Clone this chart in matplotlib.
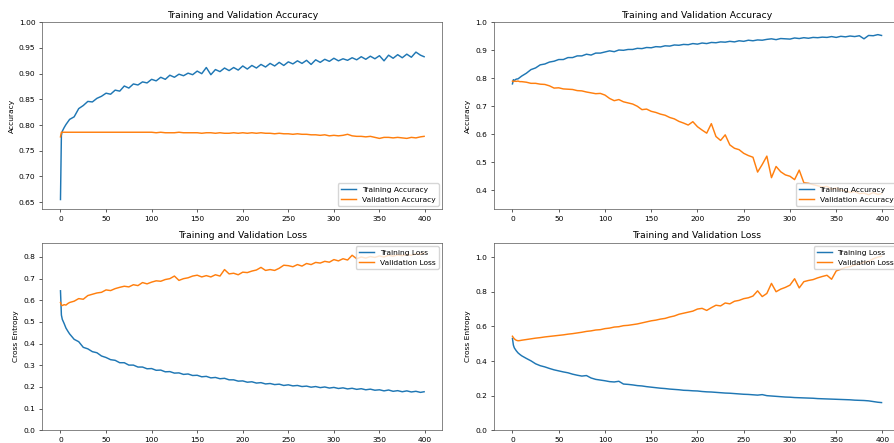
import matplotlib
matplotlib.use("Agg")
import matplotlib.pyplot as plt

epochs = [0, 1, 2, 4, 6, 8] + list(range(10, 400, 5)) + [399]

acc1_train = [0.655, 0.780, 0.788, 0.795, 0.801, 0.806,
              0.811, 0.816, 0.832, 0.838, 0.846, 0.845, 0.852, 0.856, 0.862, 0.860,
              0.868, 0.866, 0.876, 0.872, 0.880, 0.878, 0.884, 0.882, 0.889, 0.886,
              0.893, 0.889, 0.897, 0.893, 0.899, 0.896, 0.901, 0.898, 0.905, 0.900,
              0.912, 0.898, 0.908, 0.904, 0.911, 0.906, 0.912, 0.907, 0.915, 0.909,
              0.916, 0.911, 0.918, 0.913, 0.920, 0.915, 0.922, 0.916, 0.923, 0.919,
              0.925, 0.920, 0.926, 0.918, 0.927, 0.922, 0.928, 0.924, 0.930, 0.925,
              0.929, 0.926, 0.931, 0.927, 0.933, 0.928, 0.934, 0.929, 0.935, 0.925,
              0.936, 0.930, 0.937, 0.931, 0.938, 0.932, 0.942, 0.936, 0.933]
acc1_val = [0.777, 0.786, 0.786, 0.786, 0.786, 0.786,
            0.786, 0.786, 0.786, 0.786, 0.786, 0.786, 0.786, 0.786, 0.786, 0.786,
            0.786, 0.786, 0.786, 0.786, 0.786, 0.786, 0.786, 0.786, 0.786, 0.785,
            0.786, 0.785, 0.785, 0.785, 0.786, 0.785, 0.785, 0.785, 0.785, 0.784,
            0.785, 0.785, 0.784, 0.785, 0.784, 0.784, 0.785, 0.784, 0.785, 0.784,
            0.785, 0.784, 0.785, 0.784, 0.784, 0.783, 0.784, 0.783, 0.783, 0.782,
            0.783, 0.782, 0.782, 0.781, 0.781, 0.780, 0.781, 0.779, 0.780, 0.779,
            0.780, 0.782, 0.779, 0.778, 0.778, 0.777, 0.778, 0.776, 0.774, 0.776,
            0.776, 0.775, 0.776, 0.775, 0.774, 0.776, 0.775, 0.777, 0.778]

acc2_train = [0.780, 0.795, 0.792, 0.797, 0.798, 0.803,
              0.808, 0.818, 0.831, 0.837, 0.848, 0.851, 0.858, 0.861, 0.867, 0.867,
              0.874, 0.874, 0.880, 0.880, 0.886, 0.883, 0.890, 0.890, 0.894, 0.898,
              0.895, 0.901, 0.900, 0.903, 0.903, 0.907, 0.906, 0.910, 0.909, 0.913,
              0.912, 0.916, 0.915, 0.919, 0.918, 0.921, 0.920, 0.924, 0.922, 0.926,
              0.924, 0.928, 0.927, 0.930, 0.929, 0.932, 0.930, 0.934, 0.932, 0.936,
              0.934, 0.937, 0.936, 0.939, 0.941, 0.938, 0.942, 0.941, 0.940, 0.944,
              0.942, 0.945, 0.943, 0.946, 0.945, 0.947, 0.946, 0.949, 0.946, 0.950,
              0.948, 0.951, 0.949, 0.952, 0.941, 0.953, 0.952, 0.956, 0.953]
acc2_val = [0.790, 0.788, 0.790, 0.789, 0.790, 0.788,
            0.788, 0.786, 0.782, 0.782, 0.779, 0.778, 0.773, 0.765, 0.766, 0.762,
            0.761, 0.760, 0.756, 0.755, 0.751, 0.748, 0.745, 0.746, 0.740, 0.728,
            0.720, 0.724, 0.716, 0.712, 0.708, 0.700, 0.688, 0.690, 0.682, 0.678,
            0.672, 0.668, 0.660, 0.655, 0.646, 0.640, 0.633, 0.645, 0.627, 0.615,
            0.604, 0.638, 0.592, 0.578, 0.598, 0.562, 0.550, 0.545, 0.532, 0.524,
            0.518, 0.465, 0.492, 0.522, 0.445, 0.485, 0.466, 0.455, 0.450, 0.438,
            0.472, 0.427, 0.425, 0.420, 0.416, 0.412, 0.414, 0.404, 0.408, 0.400,
            0.398, 0.392, 0.396, 0.388, 0.390, 0.384, 0.392, 0.385, 0.388]

loss1_train = [0.644, 0.532, 0.512, 0.493, 0.472, 0.458,
               0.445, 0.420, 0.409, 0.383, 0.376, 0.363, 0.358, 0.343, 0.336, 0.326,
               0.323, 0.312, 0.312, 0.301, 0.301, 0.292, 0.292, 0.284, 0.285, 0.277,
               0.278, 0.270, 0.271, 0.264, 0.265, 0.258, 0.260, 0.253, 0.254, 0.247,
               0.249, 0.242, 0.244, 0.238, 0.240, 0.233, 0.233, 0.227, 0.228, 0.222,
               0.224, 0.218, 0.220, 0.214, 0.216, 0.211, 0.213, 0.207, 0.210, 0.205,
               0.207, 0.202, 0.204, 0.199, 0.202, 0.197, 0.200, 0.195, 0.198, 0.193,
               0.196, 0.191, 0.194, 0.189, 0.192, 0.187, 0.190, 0.185, 0.187, 0.182,
               0.186, 0.180, 0.183, 0.178, 0.182, 0.177, 0.180, 0.175, 0.178]
loss1_val = [0.590, 0.578, 0.576, 0.580, 0.578, 0.585,
             0.590, 0.596, 0.608, 0.605, 0.622, 0.628, 0.634, 0.637, 0.648, 0.645,
             0.654, 0.660, 0.665, 0.662, 0.672, 0.668, 0.682, 0.676, 0.684, 0.690,
             0.688, 0.696, 0.700, 0.712, 0.692, 0.700, 0.704, 0.712, 0.716, 0.708,
             0.714, 0.708, 0.718, 0.712, 0.742, 0.722, 0.725, 0.718, 0.730, 0.728,
             0.735, 0.740, 0.752, 0.738, 0.742, 0.738, 0.748, 0.762, 0.760, 0.755,
             0.765, 0.758, 0.770, 0.765, 0.775, 0.772, 0.780, 0.776, 0.788, 0.782,
             0.792, 0.786, 0.808, 0.792, 0.800, 0.795, 0.802, 0.798, 0.805, 0.800,
             0.808, 0.804, 0.810, 0.806, 0.812, 0.808, 0.815, 0.812, 0.818]

loss2_train = [0.530, 0.492, 0.476, 0.460, 0.447, 0.438,
               0.430, 0.415, 0.401, 0.384, 0.373, 0.366, 0.357, 0.349, 0.343, 0.337,
               0.332, 0.324, 0.318, 0.313, 0.316, 0.302, 0.294, 0.290, 0.286, 0.281,
               0.279, 0.283, 0.267, 0.265, 0.262, 0.258, 0.256, 0.252, 0.249, 0.246,
               0.243, 0.241, 0.238, 0.236, 0.234, 0.231, 0.230, 0.228, 0.227, 0.224,
               0.222, 0.221, 0.219, 0.217, 0.215, 0.214, 0.212, 0.210, 0.208, 0.207,
               0.205, 0.203, 0.206, 0.200, 0.198, 0.196, 0.194, 0.192, 0.191, 0.189,
               0.188, 0.187, 0.186, 0.185, 0.183, 0.182, 0.181, 0.180, 0.179, 0.178,
               0.177, 0.176, 0.174, 0.173, 0.172, 0.170, 0.166, 0.162, 0.160]
loss2_val = [0.543, 0.535, 0.528, 0.520, 0.517, 0.518,
             0.520, 0.524, 0.528, 0.532, 0.535, 0.539, 0.542, 0.545, 0.548, 0.551,
             0.555, 0.558, 0.562, 0.566, 0.571, 0.574, 0.579, 0.581, 0.587, 0.590,
             0.596, 0.598, 0.604, 0.606, 0.610, 0.614, 0.620, 0.626, 0.632, 0.636,
             0.642, 0.646, 0.654, 0.660, 0.670, 0.676, 0.682, 0.688, 0.700, 0.704,
             0.692, 0.708, 0.722, 0.718, 0.735, 0.730, 0.745, 0.750, 0.760, 0.765,
             0.775, 0.805, 0.772, 0.790, 0.848, 0.800, 0.815, 0.825, 0.838, 0.875,
             0.822, 0.858, 0.865, 0.870, 0.880, 0.888, 0.895, 0.872, 0.920, 0.930,
             0.940, 0.945, 0.955, 0.960, 0.970, 0.975, 0.990, 1.000, 1.005]

acc_ticks_left = [0.65, 0.70, 0.75, 0.80, 0.85, 0.90, 0.95, 1.00]
acc_ticks_right = [0.4, 0.5, 0.6, 0.7, 0.8, 0.9, 1.0]
loss_ticks_left = [0.0, 0.1, 0.2, 0.3, 0.4, 0.5, 0.6, 0.7, 0.8]
loss_ticks_right = [0.0, 0.2, 0.4, 0.6, 0.8, 1.0]
x_ticks = [0, 50, 100, 150, 200, 250, 300, 350, 400]

BASE = 5.4
TITLE = 6.7
W, H = 894, 443

fig = plt.figure(figsize=(W / 100, H / 100), dpi=100)

def px_axes(left, top, width, height):
    return fig.add_axes([left / W, (H - top - height) / H, width / W, height / H])

ax_tl = px_axes(42.3, 22.3, 400, 187)
ax_tr = px_axes(494, 22.3, 406, 187)
ax_bl = px_axes(42.3, 242.7, 400, 187.6)
ax_br = px_axes(494, 242.7, 406, 187.6)

def style(ax, title, ylabel, yticks, fmt, ylim, legend_loc, labels):
    ax.set_title(title, fontsize=TITLE, pad=3.2)
    ax.set_ylabel(ylabel, fontsize=BASE, labelpad=2.9)
    ax.set_xticks(x_ticks)
    ax.set_yticks(yticks)
    ax.set_yticklabels([fmt.format(v) for v in yticks])
    ax.set_xlim(-19.95, 418.95)
    ax.set_ylim(*ylim)
    ax.tick_params(labelsize=BASE, length=2.5, width=0.45, pad=2.5)
    for s in ax.spines.values():
        s.set_linewidth(0.5)
        s.set_color("#555555")
    ax.legend(labels, loc=legend_loc, fontsize=BASE, frameon=True,
              handlelength=2.0, borderaxespad=0.5)

c_blue = "#1f77b4"
c_orange = "#ff7f0e"
lw = 1.05

ax_tl.plot(epochs, acc1_train, color=c_blue, lw=lw)
ax_tl.plot(epochs, acc1_val, color=c_orange, lw=lw)
style(ax_tl, "Training and Validation Accuracy", "Accuracy", acc_ticks_left, "{:.2f}",
      (0.636, 1.0), "lower right", ["Training Accuracy", "Validation Accuracy"])

ax_tr.plot(epochs, acc2_train, color=c_blue, lw=lw)
ax_tr.plot(epochs, acc2_val, color=c_orange, lw=lw)
style(ax_tr, "Training and Validation Accuracy", "Accuracy", acc_ticks_right, "{:.1f}",
      (0.332, 1.0), "lower right", ["Training Accuracy", "Validation Accuracy"])

ax_bl.plot(epochs, loss1_train, color=c_blue, lw=lw)
ax_bl.plot(epochs, loss1_val, color=c_orange, lw=lw)
style(ax_bl, "Training and Validation Loss", "Cross Entropy", loss_ticks_left, "{:.1f}",
      (0.0, 0.866), "upper right", ["Training Loss", "Validation Loss"])

ax_br.plot(epochs, loss2_train, color=c_blue, lw=lw)
ax_br.plot(epochs, loss2_val, color=c_orange, lw=lw)
style(ax_br, "Training and Validation Loss", "Cross Entropy", loss_ticks_right, "{:.1f}",
      (0.0, 1.083), "upper right", ["Training Loss", "Validation Loss"])

fig.savefig("out.png", dpi=100)
